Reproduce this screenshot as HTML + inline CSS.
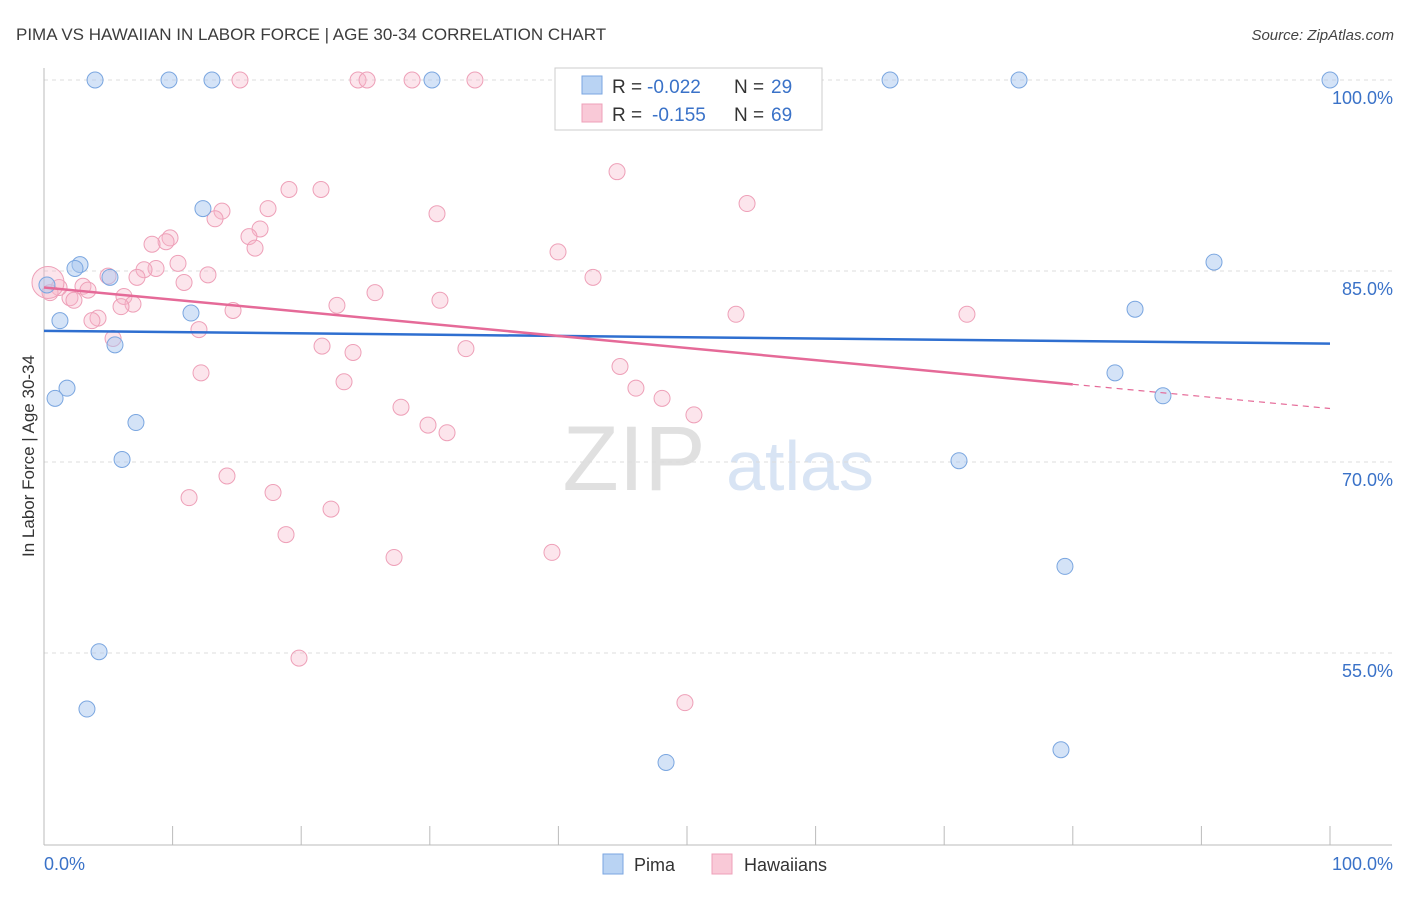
<!DOCTYPE html>
<html><head><meta charset="utf-8">
<style>
body{margin:0;background:#fff;font-family:"Liberation Sans",sans-serif;}
svg text{font-family:"Liberation Sans",sans-serif;}
</style></head>
<body>
<svg id="chart" width="1406" height="892" xmlns="http://www.w3.org/2000/svg">
<text x="16" y="40" font-size="17" fill="#3c3c3c">PIMA VS HAWAIIAN IN LABOR FORCE | AGE 30-34 CORRELATION CHART</text>
<text x="1394" y="40" font-size="15" fill="#444" text-anchor="end" font-style="italic">Source: ZipAtlas.com</text>
<g>
<text x="634" y="490" font-size="92" fill="#e0e0e0" text-anchor="middle" font-family="Liberation Serif">ZIP</text>
<text x="800" y="490" font-size="70" fill="#d8e4f4" text-anchor="middle">atlas</text>
</g>
<g id="grid"></g>
<g id="axes"></g>
<g id="pts"></g>
<g id="trend"></g>
<text transform="translate(34,456) rotate(-90)" font-size="17" fill="#333" text-anchor="middle">In Labor Force | Age 30-34</text>
<g>
<rect x="555" y="68" width="267" height="62" fill="#fff" stroke="#ccc"/>
<rect x="582" y="76" width="20" height="18" fill="#b9d3f3" stroke="#7aa6e0"/>
<rect x="582" y="104" width="20" height="18" fill="#f9c9d7" stroke="#eea0b8"/>
<text x="612" y="93" font-size="19" fill="#333">R =</text>
<text x="647" y="93" font-size="19" fill="#3a72c8">-0.022</text>
<text x="734" y="93" font-size="19" fill="#333">N =</text>
<text x="771" y="93" font-size="19" fill="#3a72c8">29</text>
<text x="612" y="121" font-size="19" fill="#333">R =</text>
<text x="652" y="121" font-size="19" fill="#3a72c8">-0.155</text>
<text x="734" y="121" font-size="19" fill="#333">N =</text>
<text x="771" y="121" font-size="19" fill="#3a72c8">69</text>
</g>
<g>
<rect x="603" y="854" width="20" height="20" fill="#b9d3f3" stroke="#7aa6e0"/>
<text x="634" y="871" font-size="18" fill="#333">Pima</text>
<rect x="712" y="854" width="20" height="20" fill="#f9c9d7" stroke="#eea0b8"/>
<text x="744" y="871" font-size="18" fill="#333">Hawaiians</text>
</g>
</svg>
<script>
const yTicks=[100,85,70,55];
const yTickLabels=["100.0%","85.0%","70.0%","55.0%"];
const xTicks=[0,10,20,30,40,50,60,70,80,90,100];
const pimaX=[3.97,9.72,13.06,30.17,65.79,75.82,100,12.36,2.8,2.41,5.13,0.23,1.24,11.43,5.52,1.79,0.86,7.15,6.07,90.98,84.84,83.28,87.01,71.15,79.39,4.28,3.34,48.37,79.08];
const pimaY=[100,100,100,100,100,100,100,89.9,85.5,85.2,84.5,83.9,81.1,81.7,79.2,75.8,75.0,73.1,70.2,85.7,82.0,77.0,75.2,70.1,61.8,55.1,50.6,46.4,47.4];
const hawX=[15.24,24.42,25.12,28.62,33.51,44.56,19.05,21.54,54.67,13.84,17.42,30.56,13.30,16.80,15.94,16.41,9.80,9.49,8.40,39.97,10.42,12.75,8.71,7.78,7.23,4.98,10.89,42.69,25.74,3.03,3.42,1.17,0.47,2.02,2.33,6.22,6.92,5.99,30.79,22.78,14.70,4.20,3.73,53.81,71.77,12.05,5.37,21.62,24.03,32.81,44.79,12.21,23.33,46.03,48.06,27.76,50.54,29.86,31.34,14.23,11.28,17.81,22.32,18.82,27.22,39.50,19.83,49.84,0.31];
const hawY=[100,100,100,100,100,92.8,91.4,91.4,90.3,89.7,89.9,89.5,89.1,88.3,87.7,86.8,87.6,87.3,87.1,86.5,85.6,84.7,85.2,85.1,84.5,84.6,84.1,84.5,83.3,83.8,83.5,83.7,83.3,82.9,82.7,83.0,82.4,82.2,82.7,82.3,81.9,81.3,81.1,81.6,81.6,80.4,79.7,79.1,78.6,78.9,77.5,77.0,76.3,75.8,75.0,74.3,73.7,72.9,72.3,68.9,67.2,67.6,66.3,64.3,62.5,62.9,54.6,51.1,84.1];
const pimaTrend=[80.3,79.3];
const hawTrend=[83.7,74.2];
const hawSolidEnd=80;

const X=v=>44+v*12.86, Y=v=>80+(100-v)*12.733;
const NS="http://www.w3.org/2000/svg";
function mk(t,a,p){const e=document.createElementNS(NS,t);for(const k in a)e.setAttribute(k,a[k]);p.appendChild(e);return e;}
const grid=document.getElementById('grid'),axes=document.getElementById('axes'),pts=document.getElementById('pts'),tr=document.getElementById('trend');
yTicks.forEach((v,i)=>{
 const l=mk('line',{x1:44,x2:1392,y1:Y(v),y2:Y(v),stroke:'#ddd','stroke-dasharray':'4,4'},grid);
 
 
 const t=mk('text',{x:1393,y:Y(v)+24,'font-size':18,fill:'#3a72c8','text-anchor':'end'},grid);
 t.textContent=yTickLabels[i];
 
 
});
mk('line',{x1:44,x2:44,y1:68,y2:845,stroke:'#bbb'},axes);
mk('line',{x1:44,x2:1392,y1:845,y2:845,stroke:'#bbb'},axes);
xTicks.forEach(v=>{const l=mk('line',{x1:X(v),x2:X(v),y1:826,y2:845,stroke:'#bbb'},axes);
 
 });
let t=mk('text',{x:44,y:870,'font-size':18,fill:'#3a72c8'},axes);t.textContent='0.0%';


t=mk('text',{x:1393,y:870,'font-size':18,fill:'#3a72c8','text-anchor':'end'},axes);t.textContent='100.0%';


hawX.forEach((v,i)=>{const c=mk('circle',{cx:X(v),cy:Y(hawY[i]),r:i==hawX.length-1?16:8,fill:'rgba(246,180,200,0.35)',stroke:'#eea0b8','stroke-width':1},pts);
 
 });
pimaX.forEach((v,i)=>{const c=mk('circle',{cx:X(v),cy:Y(pimaY[i]),r:8,fill:'rgba(170,200,240,0.5)',stroke:'#7aa6e0','stroke-width':1},pts);
 
 });
let l=mk('line',{x1:X(0),x2:X(100),y1:Y(pimaTrend[0]),y2:Y(pimaTrend[1]),stroke:'#2f6fd0','stroke-width':2.5},tr);


const hy=x=>hawTrend[0]+(hawTrend[1]-hawTrend[0])*x/100;
l=mk('line',{x1:X(0),x2:X(hawSolidEnd),y1:Y(hy(0)),y2:Y(hy(hawSolidEnd)),stroke:'#e56a98','stroke-width':2.5},tr);


l=mk('line',{x1:X(hawSolidEnd),x2:X(100),y1:Y(hy(hawSolidEnd)),y2:Y(hy(100)),stroke:'#e56a98','stroke-width':1.2,'stroke-dasharray':'6,5'},tr);


</script>
</body></html>
